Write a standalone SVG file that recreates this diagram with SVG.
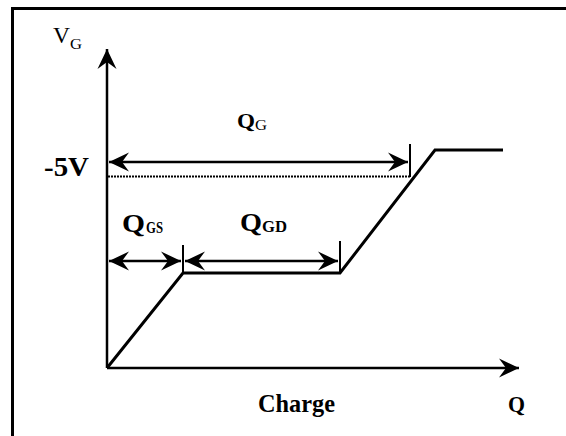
<svg xmlns="http://www.w3.org/2000/svg" width="566" height="436" viewBox="0 0 566 436">
<style>
.ln{fill:none;stroke:#000;stroke-width:2.5}
.dim{fill:none;stroke:#000;stroke-width:2.5;marker-start:url(#ah);marker-end:url(#ah)}
.tk{stroke:#000;stroke-width:2}
.t{font-family:"Liberation Serif","Times New Roman",serif;fill:#000}
.b{font-weight:bold}
</style>
<defs>
<marker id="ah" viewBox="-22 -10 24 20" refX="0" refY="0" markerWidth="24" markerHeight="20" markerUnits="userSpaceOnUse" orient="auto-start-reverse">
<path d="M0,0 L-20,-9.5 L-13,0 L-20,9.5 z" fill="#000"/>
</marker>
</defs>
<rect x="0" y="0" width="566" height="436" fill="#fff"/>
<rect id="frame" x="12.5" y="8.5" width="570" height="450" fill="none" stroke="#000" stroke-width="3"/>
<g id="axes">
<line class="ln" x1="107" y1="368" x2="107" y2="49" marker-end="url(#ah)"/>
<line class="ln" x1="107" y1="368" x2="519" y2="368" marker-end="url(#ah)"/>
</g>
<g id="curve">
<polyline fill="none" stroke="#000" stroke-width="3" points="107,368 183,273 340,273 435,150 503,150"/>
</g>
<g id="connectors">
<line class="dim" x1="109" y1="162" x2="408" y2="162"/>
<line class="tk" x1="410" y1="144" x2="410" y2="177"/>
<line x1="108" y1="176.5" x2="410" y2="176.5" stroke="#000" stroke-width="2" stroke-dasharray="2,1"/>
<line class="dim" x1="109" y1="261" x2="181" y2="261"/>
<line class="dim" x1="185" y1="261" x2="338" y2="261"/>
<line class="tk" x1="183" y1="245" x2="183" y2="273"/>
<line class="tk" x1="340" y1="241" x2="340" y2="273"/>
</g>
<g id="labels">
<text class="t" x="53" y="43" font-size="23" textLength="17" lengthAdjust="spacingAndGlyphs">V</text>
<text class="t" x="70" y="49" font-size="15" textLength="12" lengthAdjust="spacingAndGlyphs">G</text>
<text class="t b" x="44" y="176" font-size="27" textLength="45" lengthAdjust="spacingAndGlyphs">-5V</text>
<text class="t b" x="237" y="128" font-size="22" textLength="18" lengthAdjust="spacingAndGlyphs">Q</text>
<text class="t" x="255" y="130" font-size="15" textLength="12" lengthAdjust="spacingAndGlyphs">G</text>
<text class="t b" x="122" y="232" font-size="25" textLength="23" lengthAdjust="spacingAndGlyphs">Q</text>
<text class="t b" x="146" y="233" font-size="16" textLength="17" lengthAdjust="spacingAndGlyphs">GS</text>
<text class="t b" x="240" y="231" font-size="25" textLength="22" lengthAdjust="spacingAndGlyphs">Q</text>
<text class="t b" x="262" y="232" font-size="16" textLength="25" lengthAdjust="spacingAndGlyphs">GD</text>
<text class="t b" x="258" y="412" font-size="25" textLength="77" lengthAdjust="spacingAndGlyphs">Charge</text>
<text class="t b" x="508" y="412" font-size="24" textLength="17" lengthAdjust="spacingAndGlyphs">Q</text>
</g>
</svg>
